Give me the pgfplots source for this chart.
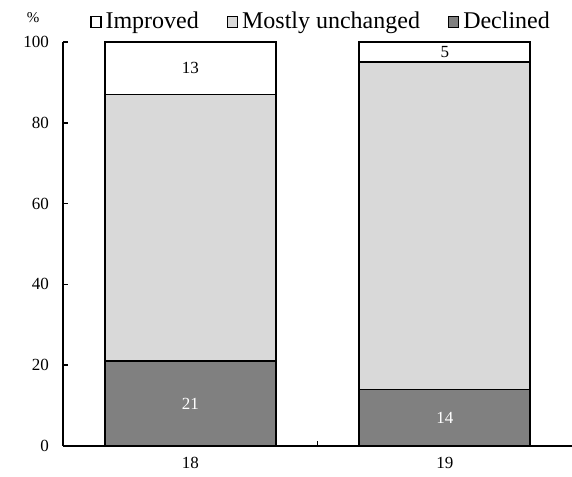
\documentclass[border=0pt]{standalone}
\usepackage{fontspec}
\setmainfont{Liberation Serif}
\usepackage{pgfplots}
\pgfplotsset{compat=1.18}
\definecolor{declined}{HTML}{808080}
\definecolor{unchanged}{HTML}{D9D9D9}
\begin{document}
\begin{tikzpicture}
\useasboundingbox (-31.5pt,-15pt) rectangle (254.5pt,223pt);
\begin{axis}[
  scale only axis, width=254.5pt, height=202pt,
  at={(0,0)}, anchor=south west,
  ybar stacked, bar width=85.5pt,
  xmin=-0.5, xmax=1.5, ymin=0, ymax=100,
  axis x line*=bottom, axis y line*=left,
  axis line style={line width=0.9pt, -},
  xtick={0.5}, xticklabels={},
  extra x ticks={0,1}, extra x tick labels={18,19},
  extra x tick style={major tick length=0pt, xticklabel style={yshift=-2pt}},
  xtick pos=bottom, ytick pos=left,
  ytick={0,20,...,100},
  yticklabel style={xshift=-3.5pt},
  tick align=inside,
  major tick length=2.5pt,
  tick style={line width=0.8pt, black},
  /pgf/number format/assume math mode=true,
  tick label style={font=\fontsize{8.5}{10}\selectfont},
  reverse legend,
  legend style={draw=none, legend columns=3, at={(rel axis cs:0.053,1.0495)}, anchor=west,
    font=\fontsize{12}{14}\selectfont, inner sep=0pt,
    /tikz/every even column/.append style={column sep=12pt}},
  legend image code/.code={\draw[#1, line width=0.6pt, draw=black] (0pt,-2.75pt) rectangle (5pt,2.75pt);},
  every axis plot/.append style={draw=black, line width=0.9pt},
]
\addplot[fill=declined] coordinates {(0,21) (1,14)};
\addlegendentry{Declined}
\addplot[fill=unchanged] coordinates {(0,66) (1,81)};
\addlegendentry{Mostly unchanged}
\addplot[fill=white] coordinates {(0,13) (1,5)};
\addlegendentry{Improved}
\end{axis}
% data labels at the middle of each labelled segment
\begin{axis}[
  scale only axis, width=254.5pt, height=202pt,
  at={(0,0)}, anchor=south west,
  xmin=-0.5, xmax=1.5, ymin=0, ymax=100,
  hide axis,
]
\addplot[draw=none, mark=none, nodes near coords, point meta=explicit symbolic,
  every node near coord/.append style={anchor=center, text=white, font=\fontsize{8.5}{10}\selectfont}]
  coordinates {(0,10.5) [21] (1,7) [14]};
\addplot[draw=none, mark=none, nodes near coords, point meta=explicit symbolic,
  every node near coord/.append style={anchor=center, text=black, font=\fontsize{8.5}{10}\selectfont}]
  coordinates {(0,93.5) [13] (1,97.5) [5]};
\end{axis}
\node[font=\fontsize{7.5}{9}\selectfont] at (-15pt,214pt) {\%};
\end{tikzpicture}
\end{document}
